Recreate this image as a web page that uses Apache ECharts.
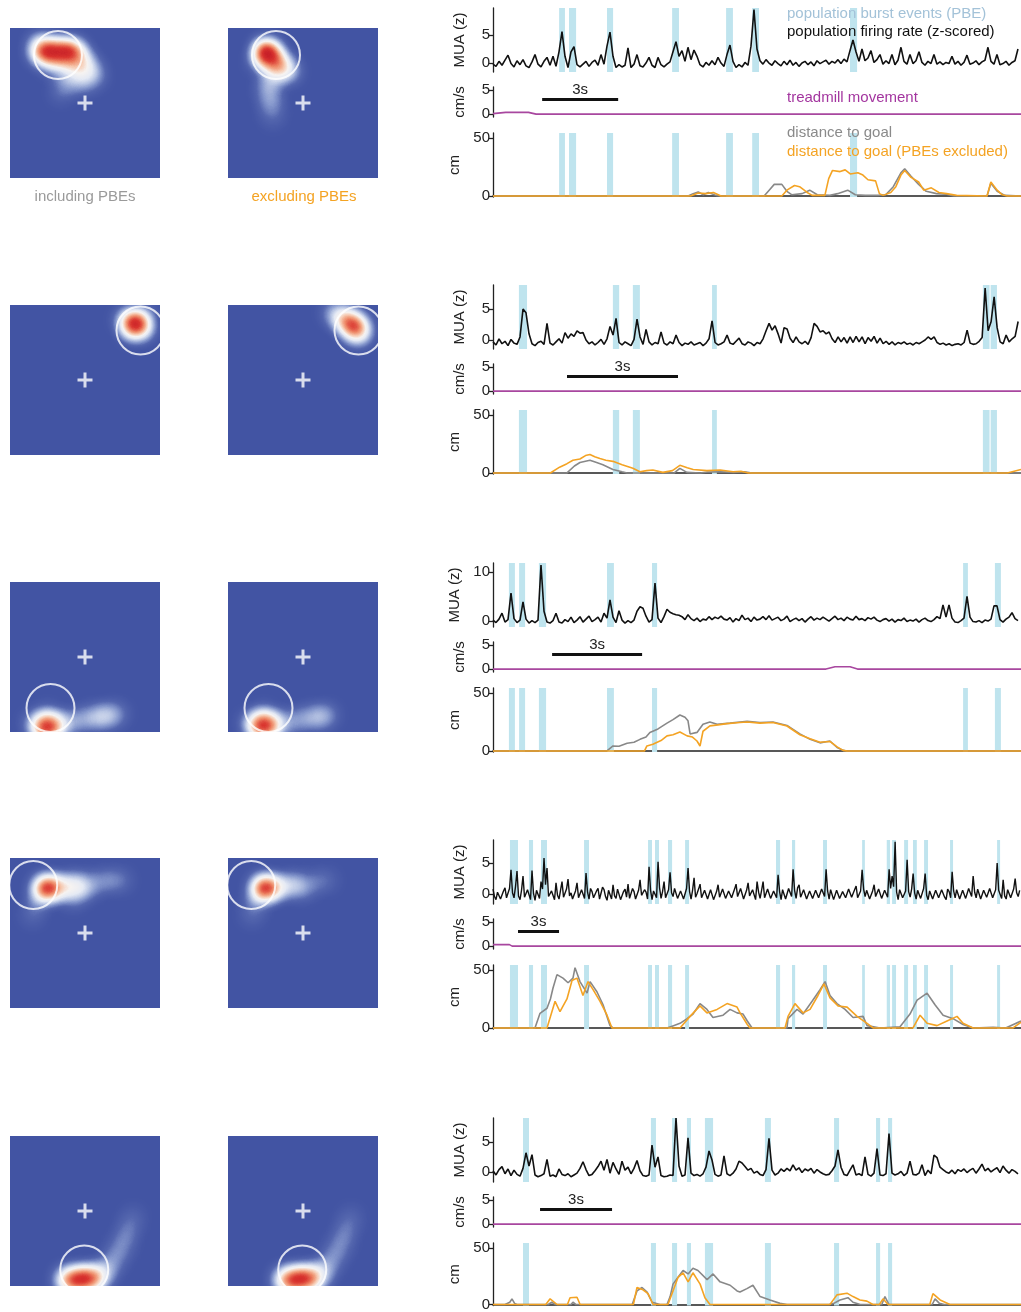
<!DOCTYPE html>
<html>
<head>
<meta charset="utf-8">
<script src="https://cdn.jsdelivr.net/npm/echarts@6/dist/echarts.min.js"></script>
<style>
  html, body { margin: 0; padding: 0; background: #fff; }
  #fig { width: 1021px; height: 1312px; }
</style>
</head>
<body>
<div id="fig"></div>
<script>
// ---------------------------------------------------------------------------
// Data: five example sessions (rows). Each row has a population firing-rate
// trace (MUA, z-scored, uniform sampling), population burst events (PBE, s),
// treadmill speed (cm/s), decoded distance to goal with and without PBEs (cm),
// and the decoded place maps with the goal location.
// ---------------------------------------------------------------------------

// sampling step of the MUA traces (s) and visible window length (s)
const muaStep = [0.1184, 0.0811, 0.1, 0.10975, 0.125];
const windowLength = [20.84, 14.27, 17.6, 38.62, 22.0];
// start of the 3 s scale bar (s)
const scaleBarStart = [1.94, 2.0, 1.97, 1.83, 1.96];

const mua1 = [
  -0.2,-0.6,0.3,-0.4,0.5,1.4,-0.1,-0.7,0.4,-0.3,
  0.6,-0.5,-0.8,0.2,1.5,-0.2,-0.7,0.3,1.0,-0.4,
  1.2,-0.6,2.0,5.6,1.2,-0.8,2.0,2.9,-0.3,-0.7,
  -0.2,0.3,-0.6,0.1,0.5,-0.4,1.5,-0.2,3.0,5.5,
  1.2,-0.8,-0.3,-0.7,-0.4,2.7,-0.8,-0.2,1.5,-0.5,
  -0.7,0.0,1.0,-0.4,-0.8,1.0,-0.3,-0.7,-0.2,0.2,
  2.0,3.8,1.2,2.2,0.3,2.8,0.6,2.3,1.2,-0.3,
  -0.7,0.1,-0.4,0.4,-0.3,1.0,0.0,-0.6,1.5,3.2,
  0.3,-0.8,-0.3,-0.7,0.1,-0.4,3.0,9.5,2.5,0.4,
  -0.2,0.6,0.0,-0.4,0.4,-0.1,-0.5,0.3,-0.3,0.5,
  -0.4,0.1,-0.6,0.0,0.3,-0.3,0.2,-0.5,0.4,-0.1,
  0.2,0.5,-0.2,0.3,0.0,0.6,-0.1,0.7,0.2,2.2,
  4.1,2.0,0.3,2.5,0.4,0.9,2.2,0.1,0.6,1.5,
  -0.2,0.4,-0.1,1.5,-0.3,0.5,2.8,0.3,-0.2,1.5,
  -0.1,0.4,2.0,0.1,-0.4,0.3,-0.1,1.5,-0.2,0.2,
  -0.3,0.1,-0.1,1.2,-0.2,0.3,-0.4,0.1,1.4,-0.2,
  0.0,0.4,-0.3,0.2,0.5,2.8,0.3,-0.2,1.5,-0.3,
  -0.1,0.3,-0.4,0.1,0.4,2.5
];
const mua2 = [
  -0.3,-0.8,0.2,-0.6,-0.2,-0.9,0.1,-0.5,-0.7,0.5,
  5.0,4.4,1.0,-0.6,-0.9,-0.4,-0.2,-0.7,2.7,-0.5,
  -0.8,-0.3,0.2,-0.5,1.2,0.3,1.0,0.6,1.5,1.1,
  1.2,0.0,-0.6,-0.3,-0.8,-0.4,0.1,-0.7,0.2,2.2,
  0.8,3.5,-0.4,-0.8,-0.3,-0.6,-0.9,0.1,3.4,0.5,
  -0.7,1.7,-0.3,-0.8,-0.4,-0.6,1.3,-0.5,-0.8,-0.3,
  -0.6,0.8,-0.4,-0.9,-0.5,-0.7,-0.3,-0.8,-0.6,-0.4,
  -0.9,-0.5,0.2,3.1,-0.4,-0.8,-0.6,-0.3,0.8,-0.5,
  -0.7,-0.2,0.3,-0.6,-0.8,-0.3,-0.5,-0.9,-0.4,-0.6,
  0.2,1.5,2.7,1.6,2.3,1.0,-0.5,2.0,1.8,0.3,
  -0.4,0.5,-0.3,-0.6,-0.2,-0.7,0.4,2.7,2.2,1.3,
  1.5,1.0,1.3,0.2,-0.4,0.5,-0.3,0.4,-0.5,0.5,
  -0.4,0.6,-0.3,0.5,-0.6,0.4,-0.2,0.6,-0.5,0.3,
  -0.6,-0.2,-0.7,-0.3,-0.8,-0.4,-0.6,-0.3,-0.7,-0.5,
  -0.8,-0.4,-0.6,-0.3,0.0,0.5,0.1,0.5,-0.4,-0.7,
  -0.5,-0.8,-0.6,-0.9,-0.7,-0.6,-0.8,-0.4,1.6,-0.5,
  -0.7,-0.6,-0.2,0.4,8.4,1.5,3.0,7.0,2.0,-0.3,
  -0.6,0.8,-0.3,0.2,0.6,3.0
];
const mua3 = [
  0.2,-0.3,0.4,1.6,-0.2,0.3,5.7,0.5,-0.3,0.2,
  3.9,0.4,-0.4,0.1,-0.3,0.2,11.4,2.0,-0.2,-0.4,
  0.1,1.6,-0.2,-0.4,0.3,-0.1,0.8,-0.3,0.2,0.9,
  -0.2,0.4,1.0,-0.1,0.3,0.8,-0.2,1.6,0.6,4.3,
  0.8,-0.3,2.1,0.2,-0.4,0.1,-0.3,0.2,2.0,2.9,
  2.6,1.0,-0.2,0.3,7.7,0.6,-0.3,0.9,2.4,1.8,
  1.5,1.3,1.2,0.9,0.3,1.3,0.5,0.1,0.6,-0.1,
  0.4,0.2,0.9,0.3,0.8,0.5,1.0,0.4,0.2,0.7,
  -0.2,0.5,0.1,1.2,0.3,0.6,-0.1,0.8,0.2,0.4,
  0.9,0.3,1.1,0.2,0.5,0.8,0.1,0.4,1.0,-0.1,
  0.3,0.6,0.1,0.5,-0.2,0.4,0.9,0.2,0.6,0.3,
  0.8,0.4,0.0,0.5,1.0,0.3,0.6,0.1,0.8,0.4,
  0.2,1.0,0.3,0.5,0.1,0.7,0.4,0.8,0.2,-0.1,
  0.3,0.5,0.0,0.4,-0.2,0.3,0.1,0.6,-0.1,0.2,
  0.0,0.4,-0.2,0.3,0.6,0.1,-0.1,0.3,0.9,0.5,
  3.3,0.8,3.3,0.6,-0.2,-0.3,0.1,0.6,5.0,0.8,
  -0.1,-0.2,0.1,-0.3,0.2,0.0,0.4,3.1,3.1,0.3,
  -0.2,0.4,0.8,1.7,0.5,0.1
];
const mua4 = [
  0.8,-0.4,-0.9,0.3,0.6,-0.8,-0.7,0.5,1.0,-0.6,-0.5,0.9,3.9,0.2,-0.6,1.2,3.7,-0.3,-0.9,0.6,
  2.9,-0.5,-0.8,0.7,0.5,-0.9,3.8,0.1,-1.0,0.6,0.4,-0.7,2.0,0.8,5.8,1.5,4.2,-0.4,-0.7,0.5,
  0.3,-0.9,1.8,-0.2,-0.8,0.6,2.0,-0.5,-0.6,0.8,2.4,-0.3,0.2,-0.8,-0.9,0.5,1.8,-0.6,-0.4,0.7,
  0.6,-0.7,3.4,0.3,-0.8,0.9,0.4,-0.6,-0.9,0.5,0.9,-0.8,-0.5,1.1,0.7,-0.4,-1.0,0.6,0.5,-0.8,
  1.5,-0.3,-0.7,0.8,0.6,-0.9,-0.9,0.4,0.8,-0.5,1.6,-0.7,-0.6,0.9,0.4,-0.8,-0.8,0.6,2.3,-0.2,
  -0.5,0.7,0.3,-0.8,4.4,0.6,-0.9,0.5,0.2,-0.6,5.2,1.0,-0.7,0.4,2.0,-0.6,-0.8,0.7,3.5,0.2,
  -0.4,0.9,0.8,-0.7,-0.9,0.5,0.6,-0.8,-0.6,0.9,4.2,0.4,-0.8,0.6,2.6,-0.5,0.1,0.8,1.6,-0.6,
  -0.7,0.6,0.9,-0.8,-0.5,0.7,0.6,-0.9,-0.9,0.4,1.5,-0.5,-0.4,0.8,0.7,-0.7,-0.8,0.5,0.5,-0.6,
  -0.6,0.8,1.6,-0.4,-0.3,0.9,0.8,-0.8,-0.9,0.6,1.8,-0.3,-0.5,0.7,0.6,-0.9,2.0,0.3,-0.7,0.6,
  2.0,-0.6,-0.4,0.8,0.9,-0.7,-0.8,0.5,0.5,-0.6,3.1,0.4,-0.9,0.7,0.7,-0.8,-0.5,0.9,0.8,-0.4,
  4.0,0.6,-0.7,1.0,1.5,-0.5,-0.6,0.7,0.9,-0.8,-0.8,0.5,0.4,-0.7,-1.0,0.6,0.7,-0.6,-0.5,0.8,
  0.6,-0.4,4.0,0.5,-0.8,0.7,0.5,-0.9,-0.6,0.6,0.8,-0.7,-0.9,0.4,0.3,-0.6,-0.7,0.8,0.6,-0.5,
  -0.5,0.7,1.3,-0.6,-0.8,0.5,3.9,0.8,-0.4,0.6,0.7,-0.8,-0.9,0.5,1.5,-0.4,-0.6,0.8,0.5,-0.7,
  -0.8,0.6,0.4,-0.5,4.0,0.9,2.9,1.2,8.4,0.3,-0.9,0.7,0.6,-0.6,-0.7,0.5,5.5,0.4,-0.5,0.8,
  3.3,0.2,-0.8,0.6,0.7,-0.7,-0.6,0.9,3.3,-0.2,-0.9,0.5,0.5,-0.8,-0.7,0.6,0.8,-0.6,-0.5,0.7,
  0.6,-0.5,-0.9,0.8,0.4,-0.6,3.6,0.5,-0.6,0.7,0.9,-0.8,-0.8,0.6,0.5,-0.7,-0.7,0.9,0.8,-0.4,
  2.9,0.3,-0.6,0.8,0.7,-0.8,-0.9,0.6,0.5,-0.5,-0.7,0.9,0.8,-0.6,-0.5,0.7,5.0,0.6,0.4,-0.7,
  2.3,-0.3,-0.8,0.7,0.6,-0.6,-0.7,0.8,2.5,0.2,-0.4,0.6
];
const mua5 = [
  0.2,-0.5,0.4,0.9,-0.3,0.5,-0.6,0.3,-0.4,-0.7,
  0.6,3.2,1.0,2.9,-0.5,-0.8,-0.6,-0.3,2.1,-0.7,
  -0.5,-0.8,0.5,-0.4,-0.6,-0.3,-0.8,-0.5,-0.2,0.6,
  1.7,0.4,-0.6,-0.4,0.2,0.9,1.8,0.3,2.1,-0.2,
  1.6,0.5,-0.4,1.8,0.3,0.8,-0.3,0.6,1.9,0.2,
  -0.6,-0.7,-0.5,4.5,0.8,2.5,-0.6,-0.8,-0.7,-0.5,
  -0.6,9.0,1.0,-0.7,-0.5,5.7,-0.2,-0.6,-0.4,-0.7,
  -0.3,0.8,3.5,2.0,-0.4,-0.7,-0.5,2.7,-0.3,-0.6,
  -0.2,0.5,1.8,1.5,0.9,0.3,0.6,-0.2,0.1,-0.4,
  -0.6,0.4,5.6,0.3,-0.5,-0.2,0.5,0.1,0.6,0.2,
  1.2,0.3,0.7,-0.1,0.5,0.2,0.6,-0.2,0.4,0.0,
  -0.3,-0.5,-0.4,0.2,1.0,3.7,0.8,-0.4,-0.6,0.3,
  1.2,-0.5,-0.3,-0.6,2.5,-0.4,-0.7,-0.2,3.9,-0.5,
  -0.6,-0.3,6.4,-0.2,-0.5,-0.3,0.1,-0.6,-0.2,1.8,
  -0.4,-0.5,-0.2,1.2,-0.6,0.3,-0.3,2.8,2.4,0.8,
  0.4,0.0,-0.2,0.3,-0.3,0.4,0.1,0.5,-0.1,0.3,
  0.6,-0.2,0.5,1.3,0.2,0.6,0.0,0.4,0.7,-0.1,
  1.0,0.3,-0.2,0.4,0.1,-0.3
];

// population burst events: [start, end] in s
const pbe1 = [[2.61,2.84],[3.0,3.28],[4.5,4.74],[7.07,7.34],[9.2,9.47],[10.23,10.5],[14.09,14.37]];
const pbe2 = [[0.70,0.92],[3.24,3.41],[3.78,3.97],[5.92,6.05],[13.24,13.42],[13.45,13.62]];
const pbe3 = [[0.53,0.73],[0.87,1.07],[1.53,1.77],[3.8,4.03],[5.3,5.47],[15.67,15.83],[16.73,16.93]];
const pbe4 = [[1.24,1.83],[2.63,2.93],[3.51,3.95],[6.66,7.02],[11.34,11.63],[11.85,12.14],[12.8,13.1],
  [14.05,14.34],[20.7,21.0],[21.87,22.1],[24.14,24.43],[27.0,27.2],[28.8,29.04],[29.19,29.48],
  [30.07,30.36],[30.72,31.0],[31.53,31.82],[33.43,33.65],[36.87,37.09]];
const pbe5 = [[1.25,1.5],[6.58,6.79],[7.46,7.67],[8.08,8.25],[8.83,9.17],[11.33,11.58],[14.21,14.42],[15.96,16.13],[16.46,16.63]];

// treadmill speed: [t (s), cm/s]
const speed1 = [[0,0.1],[0.5,0.35],[1.4,0.35],[1.7,0],[20.84,0]];
const speed2 = [[0,0],[14.27,0]];
const speed3 = [[0,0],[11.1,0],[11.4,0.5],[11.9,0.5],[12.15,0],[17.6,0]];
const speed4 = [[0,0.3],[1.2,0.3],[1.4,0],[38.62,0]];
const speed5 = [[0,0],[22,0]];

// decoded distance to goal (cm): [t (s), cm]
const goal1 = [[0,0],[7.7,0],[7.9,2],[8.1,3.5],[8.3,1],[8.5,3],[8.8,0.5],[9.0,0],[10.7,0],[10.9,5],[11.1,10],
  [11.4,10],[11.6,4],[11.8,1],[12.2,2],[12.5,5],[12.8,1],[13.3,0.5],[13.6,2],[14.0,5],[14.3,1],[14.7,0.5],
  [15.2,0.5],[15.5,1],[15.8,8],[16.1,20],[16.25,23.5],[16.5,17],[16.8,10],[17.1,4],[17.5,2],[17.9,1.5],
  [18.2,0],[19.5,0],[19.65,11],[19.9,4],[20.2,0.5],[20.84,0]];
const goalEx1 = [[0,0],[7.8,0],[8.1,2.5],[8.4,2],[8.7,3],[9.0,0],[11.4,0],[11.6,5],[11.9,9],[12.1,8],[12.4,3],
  [12.6,0.5],[13.1,0.5],[13.25,15],[13.4,22],[13.7,21],[13.9,22.5],[14.1,19],[14.4,20],[14.6,18],[14.8,14],
  [15.1,13],[15.25,2],[15.4,0.5],[15.7,3],[15.9,8],[16.1,18],[16.25,22],[16.5,16],[16.8,12],[17.0,5],
  [17.3,7],[17.6,3],[17.9,2],[18.3,0.5],[19.5,0],[19.65,12],[19.9,5],[20.1,1],[20.3,0],[20.84,0]];
const goal2 = [[0,0],[2.0,0],[2.2,6],[2.35,9],[2.62,11],[2.8,9],[2.97,7],[3.24,3],[3.49,1],[3.62,0],[4.9,0],
  [5.05,4],[5.24,0.5],[5.6,0],[5.8,0.8],[6.14,1],[6.5,0.5],[6.8,1],[7.0,0],[14.27,0]];
const goalEx2 = [[0,0],[1.55,0],[1.8,5],[2.0,8],[2.16,11],[2.35,12],[2.5,15],[2.62,16],[2.75,14],[2.89,12.5],
  [3.05,11],[3.24,10],[3.49,7],[3.78,4],[3.97,1],[4.15,2],[4.32,2.5],[4.59,0.5],[4.85,2],[5.05,6.6],
  [5.25,4.5],[5.41,3],[5.78,2],[6.14,2.5],[6.49,1],[6.7,1.5],[6.9,0],[13.9,0],[14.27,3]];
const goal3 = [[0,0],[3.8,0],[4.0,4.3],[4.2,4],[4.47,6.6],[4.7,7.5],[4.9,10],[5.1,12],[5.23,16],[5.5,19],
  [5.8,24],[6.0,27],[6.23,31],[6.4,29],[6.5,26],[6.57,14.7],[6.8,16],[7.0,23],[7.23,25],[7.47,23],[7.9,24],
  [8.23,25],[8.47,25.5],[8.9,24.5],[9.33,25],[9.8,22],[10.23,14.7],[10.57,10],[10.9,7],[11.23,8.6],
  [11.47,3],[11.67,0.5],[11.8,0],[17.6,0]];
const goalEx3 = [[0,0],[5.05,0],[5.13,4.3],[5.33,5.7],[5.6,9],[5.8,13],[6.0,14],[6.23,16.4],[6.47,13],
  [6.65,12],[6.8,8.6],[6.9,4.3],[7.0,17],[7.23,21.6],[7.5,22.5],[7.8,23.6],[8.23,24.5],[8.47,25],[8.9,24],
  [9.33,24.5],[9.8,21.5],[10.23,14],[10.57,10.5],[10.9,7.5],[11.23,8.2],[11.47,3.5],[11.67,0.5],[11.8,0],[17.6,0]];
const goal4 = [[0,0],[3.07,0],[3.44,12.6],[3.95,17],[4.2,25],[4.39,34.5],[4.68,46],[5.12,43],[5.49,39],
  [5.85,43],[6.0,52],[6.36,40],[6.88,30],[7.1,40],[7.61,31],[8.05,20],[8.56,2],[8.78,0],[12.73,0],[13.2,2],
  [13.68,4],[14.2,8],[14.63,12],[15.14,21],[15.65,16],[16.09,9],[16.83,11],[17.34,16],[17.85,13],[18.29,12],
  [18.6,6],[18.95,0],[21.5,0],[21.58,8],[22.24,16],[22.68,12],[23.34,23],[23.92,33],[24.29,40],[24.65,28],
  [25.16,21],[25.75,16],[26.34,9],[27.07,10],[27.36,2],[28.31,0],[29.77,1],[30.5,12],[31.02,24],[31.75,30],
  [32.33,20],[32.92,11],[33.65,8],[34.38,3],[35.11,0],[36.58,0.5],[37.5,0],[38.62,6]];
const goalEx4 = [[0,0],[3.95,0],[4.54,23],[4.9,14],[5.41,25],[5.78,41],[6.14,43],[6.58,28],[6.95,40],
  [7.32,33],[7.83,23],[8.34,11],[8.7,0],[13.68,0],[14.41,10],[15.14,19],[15.65,13],[16.39,16],[17.12,21],
  [17.85,18],[18.07,13],[18.6,3],[18.8,0],[21.36,0],[21.58,10],[22.09,21],[22.68,13],[23.19,16],[23.77,28],
  [24.21,38],[24.65,26],[25.24,19],[25.9,18],[26.63,10],[27.36,4],[27.8,0],[30.72,0],[31.24,11],[31.75,4],
  [32.48,2],[33.21,6],[33.94,10],[34.38,4],[35.11,0],[38.04,0],[38.62,5]];
const goal5 = [[0,0],[0.5,0],[0.7,2],[0.79,5],[0.9,1],[1.0,0],[2.3,0],[2.45,2],[2.6,0],[3.25,0],[3.33,2],
  [3.45,0],[5.8,0],[6.0,12],[6.21,15],[6.42,11],[6.63,2],[6.96,0],[7.25,0],[7.38,7],[7.5,18],[7.71,24],
  [7.92,30],[8.13,27],[8.33,32],[8.54,30],[8.92,22],[9.17,27],[9.46,20],[9.88,17],[10.17,12],[10.29,11],
  [10.58,14],[10.83,17],[11.13,7],[11.54,4],[11.96,1],[12.25,0],[14.0,0],[14.2,1],[14.46,4],[14.79,6],
  [15.0,2],[15.3,0],[16.2,0],[16.33,7],[16.5,0],[18.3,0],[18.42,5],[18.6,1],[18.8,0],[22,0]];
const goalEx5 = [[0,0],[2.2,0],[2.38,5],[2.67,0],[3.1,0],[3.21,6],[3.5,6.4],[3.63,0],[5.85,0],[6.0,15],
  [6.25,13],[6.46,9.6],[6.67,0],[7.29,0],[7.5,12],[7.71,24],[7.92,28],[8.13,20],[8.33,28],[8.63,18],
  [8.83,6],[9.04,0],[14.04,0],[14.33,8.5],[14.75,10],[15.0,7],[15.29,4],[15.58,3],[15.83,0],[16.1,0],
  [16.25,5],[16.46,0],[18.2,0],[18.33,9.6],[18.63,4],[19.04,0],[22,0]];

// decoded position density in the arena (x, y in 0..1, y up; weight)
const placeIncl1 = [[0.21,0.84,0.85],[0.26,0.845,1.0],[0.32,0.84,0.85],[0.38,0.845,1.0],[0.43,0.84,0.8],
  [0.47,0.79,0.45],[0.52,0.74,0.4],[0.44,0.72,0.4],[0.36,0.75,0.35],[0.28,0.76,0.3],[0.56,0.68,0.3],
  [0.48,0.64,0.3],[0.38,0.64,0.25],[0.34,0.57,0.15],[0.2,0.9,0.3]];
const placeExcl1 = [[0.25,0.845,1.0],[0.26,0.83,0.8],[0.29,0.81,0.7],[0.33,0.77,0.6],[0.37,0.73,0.5],[0.41,0.71,0.3],
  [0.3,0.7,0.35],[0.27,0.62,0.3],[0.28,0.54,0.25],[0.29,0.47,0.18],[0.3,0.4,0.1],[0.21,0.78,0.25]];
const placeIncl2 = [[0.82,0.88,0.95],[0.85,0.87,0.95],[0.89,0.84,0.35],[0.77,0.9,0.3],[0.81,0.82,0.25],[0.88,0.92,0.25]];
const placeExcl2 = [[0.8,0.89,0.8],[0.84,0.86,0.95],[0.88,0.83,0.6],[0.75,0.92,0.4],[0.7,0.95,0.25],[0.86,0.79,0.25]];
const placeIncl3 = [[0.22,0.03,0.95],[0.27,0.03,0.95],[0.33,0.05,0.45],[0.25,0.1,0.35],[0.42,0.07,0.3],
  [0.52,0.09,0.3],[0.6,0.1,0.35],[0.66,0.11,0.3],[0.72,0.12,0.18],[0.16,0.06,0.25]];
const placeExcl3 = [[0.21,0.04,0.95],[0.26,0.04,0.95],[0.32,0.05,0.45],[0.24,0.1,0.35],[0.42,0.07,0.28],
  [0.52,0.09,0.28],[0.6,0.1,0.3],[0.66,0.11,0.25],[0.15,0.06,0.25]];
const placeIncl4 = [[0.23,0.8,1.0],[0.27,0.8,0.95],[0.33,0.8,0.4],[0.39,0.82,0.4],[0.45,0.82,0.38],[0.5,0.8,0.3],
  [0.42,0.74,0.25],[0.58,0.84,0.2],[0.66,0.85,0.2],[0.74,0.85,0.18],[0.19,0.72,0.25],[0.15,0.62,0.15]];
const placeExcl4 = [[0.23,0.8,1.0],[0.27,0.8,0.95],[0.33,0.8,0.35],[0.39,0.82,0.3],[0.45,0.82,0.28],[0.5,0.8,0.22],
  [0.58,0.84,0.15],[0.66,0.85,0.14],[0.19,0.72,0.25],[0.16,0.62,0.15]];
const placeIncl5 = [[0.38,0.04,0.8],[0.44,0.04,1.0],[0.5,0.05,1.0],[0.56,0.05,0.85],[0.62,0.08,0.35],[0.67,0.14,0.25],
  [0.72,0.22,0.22],[0.76,0.3,0.2],[0.79,0.38,0.16],[0.82,0.46,0.12]];
const placeExcl5 = [[0.38,0.04,0.8],[0.44,0.04,1.0],[0.5,0.05,1.0],[0.56,0.05,0.85],[0.62,0.08,0.35],[0.67,0.14,0.25],
  [0.72,0.22,0.22],[0.76,0.3,0.2],[0.79,0.38,0.16],[0.82,0.46,0.12]];

// goal location per session (x, y up) and arena centre
const goalLocation = [[0.32,0.82],[0.87,0.83],[0.27,0.16],[0.155,0.82],[0.495,0.11]];
const arenaCentre = [0.5, 0.5];

// ---------------------------------------------------------------------------
const FONT = '"Liberation Sans", Arial, Helvetica, sans-serif';
const INK = '#222';
const PBE_COLOR = '#bfe4ee';
const TRACE_COLORS = { mua: '#111', speed: '#a8479f', goal: '#888888', goalEx: '#f4a323' };
const ARENA_BLUE = '#4254a3';
const HEAT_COLORS = ['#4254a3', '#5466ae', '#8395cb', '#b7c4e3', '#e4e9f4', '#f6f3f1',
  '#f6c9b0', '#ee8a68', '#d9352f', '#b80d22', '#9a0019'];
const PLUS = 'path://M4 0h2v4h4v2H6v4H4V6H0V4h4z';

const ROW_TOP = [0, 277, 555, 832, 1110];
const MAP_TOP = [28, 305, 582, 858, 1136];
const MAP_LEFT = [10, 228];
const MUA_RANGE = [[-1.6, 9.8], [-1.45, 8.9], [-1.2, 11.8], [-1.6, 8.7], [-1.67, 9.0]];
const MUA_TICKS = [[0, 5], [0, 5], [0, 10], [0, 5], [0, 5]];
const MUA_WIDTH = [1.6, 1.6, 1.6, 1.4, 1.6];

const sessions = [
  { mua: mua1, pbe: pbe1, speed: speed1, goal: goal1, goalEx: goalEx1, incl: placeIncl1, excl: placeExcl1 },
  { mua: mua2, pbe: pbe2, speed: speed2, goal: goal2, goalEx: goalEx2, incl: placeIncl2, excl: placeExcl2 },
  { mua: mua3, pbe: pbe3, speed: speed3, goal: goal3, goalEx: goalEx3, incl: placeIncl3, excl: placeExcl3 },
  { mua: mua4, pbe: pbe4, speed: speed4, goal: goal4, goalEx: goalEx4, incl: placeIncl4, excl: placeExcl4 },
  { mua: mua5, pbe: pbe5, speed: speed5, goal: goal5, goalEx: goalEx5, incl: placeIncl5, excl: placeExcl5 }
];

// a unit-square arena for the geo coordinate system used by the place maps
echarts.registerMap('arena', {
  type: 'FeatureCollection',
  features: [{ type: 'Feature', properties: { name: 'arena' },
    geometry: { type: 'Polygon', coordinates: [[[0, 0], [1, 0], [1, 1], [0, 1], [0, 0]]] } }]
});

const chart = echarts.init(document.getElementById('fig'), null, { renderer: 'canvas' });

const option = {
  animation: false,
  backgroundColor: '#ffffff',
  textStyle: { fontFamily: FONT },
  grid: [], xAxis: [], yAxis: [], geo: [], series: [], visualMap: [], graphic: []
};

function yAxisFor(gridIndex, range, ticks, name) {
  return {
    gridIndex, type: 'value', min: range[0], max: range[1],
    name, nameLocation: 'middle', nameGap: 26, nameRotate: 90,
    nameTextStyle: { fontSize: 15, color: INK, fontFamily: FONT },
    axisLine: { show: true, lineStyle: { color: INK, width: 1.3 } },
    axisTick: { show: true, length: 4, customValues: ticks, lineStyle: { color: INK, width: 1.3 } },
    axisLabel: { customValues: ticks, fontSize: 15, color: INK, margin: 3, fontFamily: FONT },
    splitLine: { show: false }
  };
}
function xAxisFor(gridIndex, max, showLine) {
  return {
    gridIndex, type: 'value', min: 0, max, show: showLine,
    axisLine: { show: showLine, lineStyle: { color: INK, width: 1.5 } },
    axisTick: { show: false }, axisLabel: { show: false }, splitLine: { show: false }
  };
}
function pbeAreas(pbe) {
  return { silent: true, itemStyle: { color: PBE_COLOR }, data: pbe.map(([a, b]) => [{ xAxis: a }, { xAxis: b }]) };
}

sessions.forEach((s, r) => {
  const o = ROW_TOP[r];
  const g = r * 3;
  const step = muaStep[r];
  const win = windowLength[r];

  option.grid.push({ left: 493, right: 0, top: o + 8, height: 64 });
  option.grid.push({ left: 493, right: 0, top: o + 87, height: 30 });
  option.grid.push({ left: 493, right: 0, top: o + 133, height: 64 });

  option.xAxis.push(xAxisFor(g, win, false), xAxisFor(g + 1, win, false), xAxisFor(g + 2, win, true));
  option.yAxis.push(
    yAxisFor(g, MUA_RANGE[r], MUA_TICKS[r], 'MUA (z)'),
    yAxisFor(g + 1, [-0.6, 5.6], [0, 5], 'cm/s'),
    yAxisFor(g + 2, [-0.9, 54.3], [0, 50], 'cm')
  );

  // population firing rate with PBE shading
  option.series.push({
    type: 'line', xAxisIndex: g, yAxisIndex: g, silent: true, symbol: 'none', z: 3,
    data: s.mua.map((v, i) => [i * step, v]),
    lineStyle: { color: TRACE_COLORS.mua, width: MUA_WIDTH[r] },
    markArea: pbeAreas(s.pbe)
  });
  // treadmill speed with 3 s scale bar
  const sb = scaleBarStart[r];
  option.series.push({
    type: 'line', xAxisIndex: g + 1, yAxisIndex: g + 1, silent: true, symbol: 'none', z: 3,
    data: s.speed, lineStyle: { color: TRACE_COLORS.speed, width: 1.6 },
    markLine: {
      silent: true, symbol: ['none', 'none'], animation: false,
      lineStyle: { color: '#111', width: 3, type: 'solid' },
      label: { show: true, formatter: '3s', position: 'insideMiddleTop', distance: 2, fontSize: 15, color: INK, fontFamily: FONT },
      emphasis: { disabled: true },
      data: [[{ coord: [sb, 3] }, { coord: [sb + 3, 3] }]]
    }
  });
  // distance to goal, with and without PBEs
  option.series.push({
    type: 'line', xAxisIndex: g + 2, yAxisIndex: g + 2, silent: true, symbol: 'none', z: 3,
    data: s.goal, lineStyle: { color: TRACE_COLORS.goal, width: 1.6 },
    markArea: pbeAreas(s.pbe)
  });
  option.series.push({
    type: 'line', xAxisIndex: g + 2, yAxisIndex: g + 2, silent: true, symbol: 'none', z: 4,
    data: s.goalEx, lineStyle: { color: TRACE_COLORS.goalEx, width: 1.6 }
  });

  // place maps: including and excluding PBEs
  [s.incl, s.excl].forEach((pts, c) => {
    const gi = option.geo.length;
    option.geo.push({
      map: 'arena', left: MAP_LEFT[c], top: MAP_TOP[r], width: 150, height: 150,
      aspectScale: 1, boundingCoords: [[0, 1], [1, 0]], roam: false, silent: true,
      label: { show: false }, itemStyle: { areaColor: ARENA_BLUE, borderWidth: 0 },
      emphasis: { disabled: true }, select: { disabled: true }, tooltip: { show: false }
    });
    const si = option.series.length;
    option.series.push({
      type: 'heatmap', coordinateSystem: 'geo', geoIndex: gi, silent: true,
      pointSize: 10, blurSize: 16, minOpacity: 1, maxOpacity: 1, data: pts
    });
    option.visualMap.push({
      type: 'continuous', show: false, seriesIndex: si, min: 0, max: 1,
      inRange: { color: HEAT_COLORS }
    });
    option.series.push({
      type: 'scatter', coordinateSystem: 'geo', geoIndex: gi, silent: true, z: 6,
      data: [
        { value: goalLocation[r], symbol: 'circle', symbolSize: 48,
          itemStyle: { color: 'rgba(0,0,0,0)', borderColor: '#ffffff', borderWidth: 2 } },
        { value: arenaCentre, symbol: PLUS, symbolSize: 15, itemStyle: { color: '#ffffff' } }
      ]
    });
  });
});

// annotations
const txt = (x, y, text, fill, align) => ({
  type: 'text', x, y, z: 20, silent: true,
  style: { text, fill, font: '15px ' + FONT, align: align || 'left', verticalAlign: 'middle' }
});
option.graphic = [
  txt(85, 197, 'including PBEs', '#9a9a9a', 'center'),
  txt(304, 197, 'excluding PBEs', '#f4a323', 'center'),
  txt(787, 14, 'population burst events (PBE)', '#a3c2d8'),
  txt(787, 32, 'population firing rate (z-scored)', '#111'),
  txt(787, 98, 'treadmill movement', '#a3359f'),
  txt(787, 133, 'distance to goal', '#8a8a8a'),
  txt(787, 152, 'distance to goal (PBEs excluded)', '#f4a323')
];

chart.setOption(option);
</script>
</body>
</html>
